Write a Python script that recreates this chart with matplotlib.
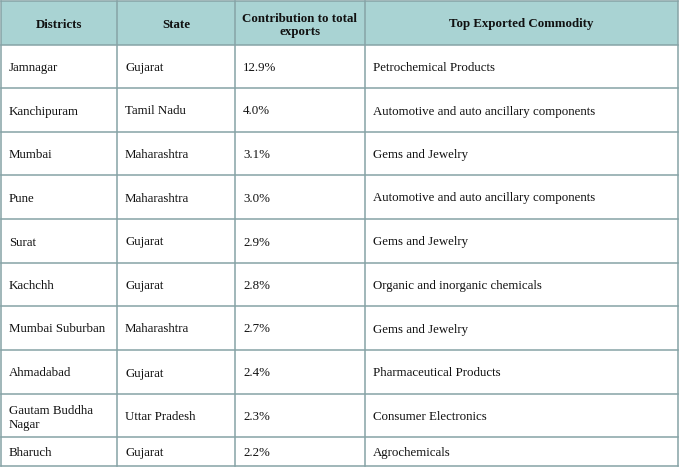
import matplotlib
matplotlib.use("Agg")
import matplotlib.pyplot as plt
from matplotlib.patches import Rectangle

headers = ["Districts", "State", "Contribution to total\nexports", "Top Exported Commodity"]
districts = ["Jamnagar", "Kanchipuram", "Mumbai", "Pune", "Surat", "Kachchh",
             "Mumbai Suburban", "Ahmadabad", "Gautam Buddha\nNagar", "Bharuch"]
states = ["Gujarat", "Tamil Nadu", "Maharashtra", "Maharashtra", "Gujarat", "Gujarat",
          "Maharashtra", "Gujarat", "Uttar Pradesh", "Gujarat"]
shares = ["12.9%", "4.0%", "3.1%", "3.0%", "2.9%", "2.8%", "2.7%", "2.4%", "2.3%", "2.2%"]
commodities = ["Petrochemical Products", "Automotive and auto ancillary components",
               "Gems and Jewelry", "Automotive and auto ancillary components",
               "Gems and Jewelry", "Organic and inorganic chemicals", "Gems and Jewelry",
               "Pharmaceutical Products", "Consumer Electronics", "Agrochemicals"]

col_x = [1, 117, 235, 365, 678]
row_y = [1, 45, 88, 132, 175, 219, 263, 306, 350, 394, 437, 466]
header_bg = "#a9d3d3"
line_c = "#86a3a6"

fig = plt.figure(figsize=(6.8, 4.68), dpi=100)
ax = fig.add_axes([0, 0, 1, 1])
ax.set_xlim(0, 680)
ax.set_ylim(468, 0)
ax.axis("off")
plt.rcParams["font.family"] = ["Liberation Serif", "DejaVu Serif"]

ax.add_patch(Rectangle((col_x[0], row_y[0]), col_x[-1] - col_x[0], row_y[1] - row_y[0],
                       facecolor=header_bg, edgecolor="none"))

for i, h in enumerate(headers):
    cx = (col_x[i] + col_x[i + 1]) / 2
    cy = (row_y[0] + row_y[1]) / 2
    ax.text(cx, cy, h, ha="center", va="center_baseline", fontsize=9.3,
            fontweight="bold", linespacing=1.2, color="#111111")

rows = list(zip(districts, states, shares, commodities))
for r, vals in enumerate(rows):
    cy = (row_y[r + 1] + row_y[r + 2]) / 2
    for c, v in enumerate(vals):
        ax.text(col_x[c] + 8, cy, v, ha="left", va="center_baseline", fontsize=9.3,
                linespacing=1.2, color="#111111")

for y in row_y:
    ax.plot([col_x[0], col_x[-1]], [y, y], color=line_c, lw=1.1)
for x in col_x:
    ax.plot([x, x], [row_y[0], row_y[-1]], color=line_c, lw=1.1)

fig.savefig("out.png", dpi=100)
